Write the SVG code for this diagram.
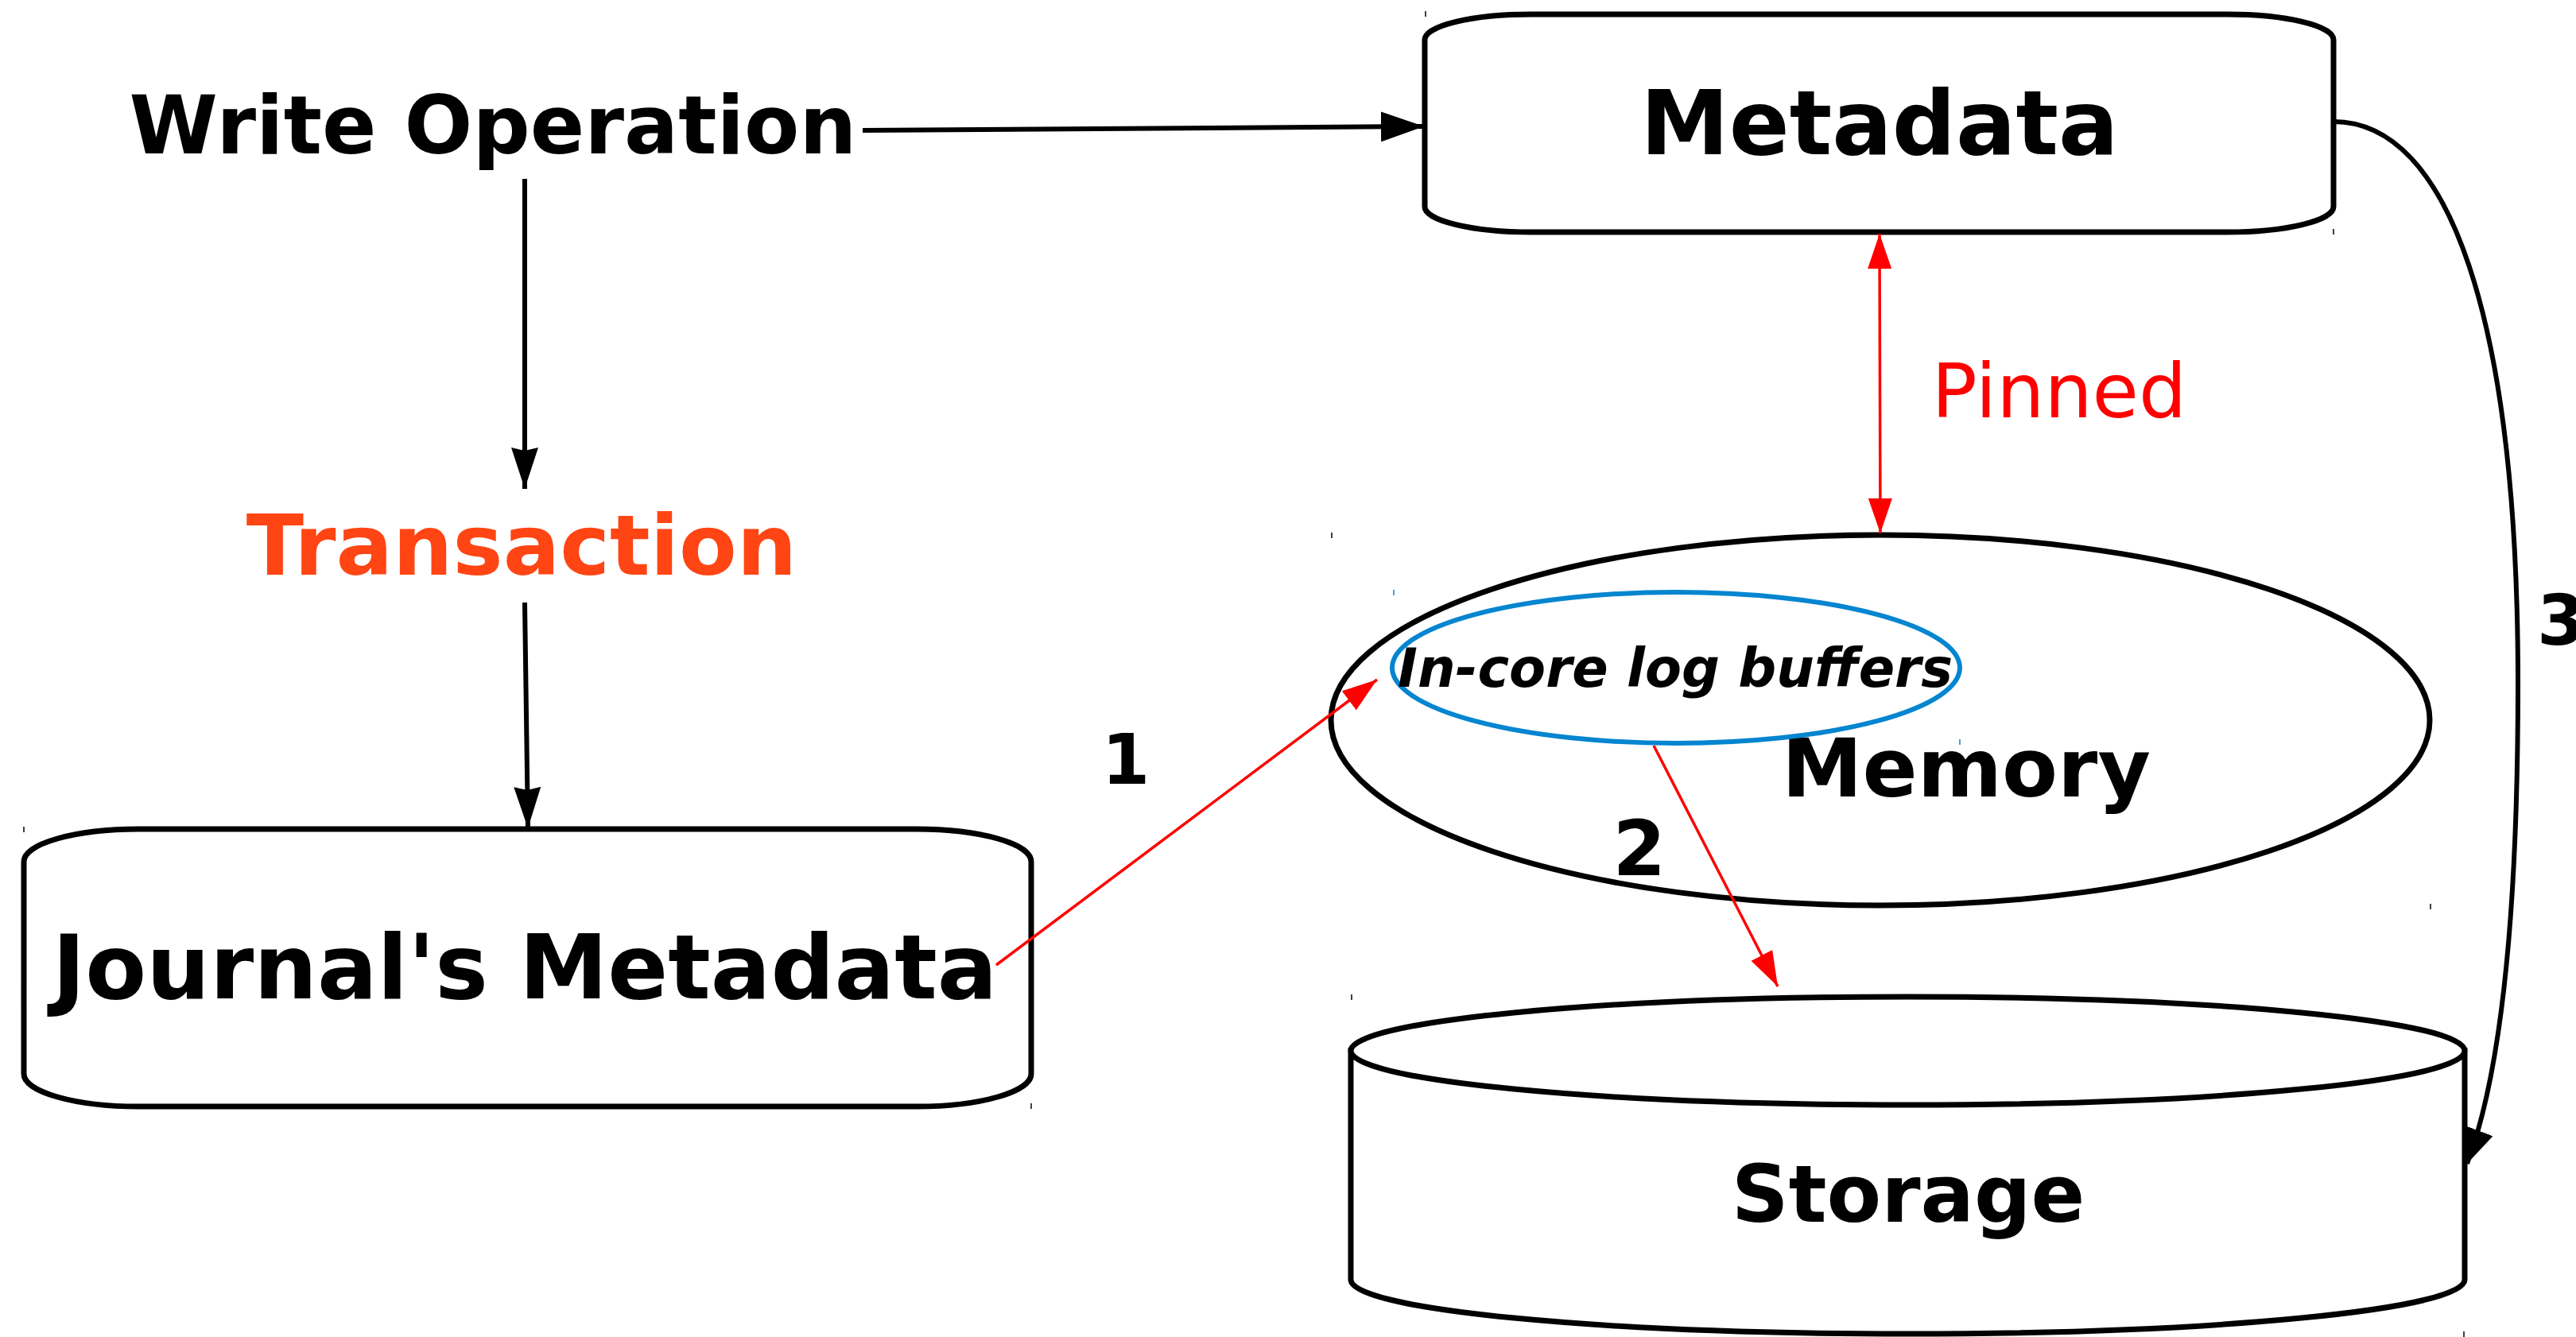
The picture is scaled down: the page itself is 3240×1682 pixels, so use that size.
<svg xmlns="http://www.w3.org/2000/svg" width="3240" height="1682" viewBox="0 0 3240 1682">
<style>
.shape{fill:#ffffff;stroke:#000000;stroke-width:7}
.lbl{font-family:"DejaVu Sans","Liberation Sans",sans-serif;font-weight:bold;fill:#000000}
.blk{fill:none;stroke:#000000;stroke-width:6}
.red{fill:none;stroke:#ff0000;stroke-width:3.5}
.tick{stroke:#000000;stroke-width:1.5}
.tickb{stroke:#0485d0;stroke-width:1.5}
</style>
<defs>
<marker id="arrB" markerUnits="userSpaceOnUse" markerWidth="56" markerHeight="38" refX="54" refY="19" orient="auto">
<path d="M0,0 L54,19 L0,38 Z" fill="#000000"/>
</marker>
<marker id="arrV" markerUnits="userSpaceOnUse" markerWidth="54" markerHeight="34" refX="52" refY="17" orient="auto">
<path d="M0,0 L52,17 L0,34 L4,17 Z" fill="#000000"/>
</marker>
<marker id="arrC" markerUnits="userSpaceOnUse" markerWidth="46" markerHeight="36" refX="44" refY="18" orient="auto">
<path d="M0,0 L44,18 L0,36 Z" fill="#000000"/>
</marker>
<marker id="arrR" markerUnits="userSpaceOnUse" markerWidth="46" markerHeight="30" refX="44" refY="15" orient="auto">
<path d="M0,0 L44,15 L0,30 Z" fill="#ff0000"/>
</marker>
<marker id="arrRs" markerUnits="userSpaceOnUse" markerWidth="46" markerHeight="30" refX="44" refY="15" orient="auto-start-reverse">
<path d="M0,0 L44,15 L0,30 Z" fill="#ff0000"/>
</marker>
</defs>
<rect width="3240" height="1682" fill="#ffffff"/>

<g id="write-operation">
<text class="lbl" x="620" y="193" font-size="101" text-anchor="middle">Write Operation</text>
</g>

<g id="transaction">
<text class="lbl" x="656" y="723" font-size="106" text-anchor="middle" style="fill:#ff4513">Transaction</text>
</g>

<g id="metadata">
<rect class="shape" x="1792" y="18" width="1143" height="274" rx="134" ry="32"/>
<text class="lbl" x="2364" y="194" font-size="112" text-anchor="middle">Metadata</text>
</g>

<g id="journals-metadata">
<rect class="shape" x="30" y="1043" width="1267" height="349" rx="144" ry="41"/>
<text class="lbl" x="660" y="1256" font-size="112" text-anchor="middle">Journal's Metadata</text>
</g>

<g id="memory">
<ellipse class="shape" cx="2365" cy="906" rx="691" ry="233"/>
<text class="lbl" x="2473" y="1002" font-size="102" text-anchor="middle">Memory</text>
</g>

<g id="in-core-log-buffers">
<ellipse cx="2108" cy="840" rx="357" ry="95" fill="none" stroke="#0485d0" stroke-width="6"/>
<text class="lbl" x="2107" y="864" font-size="67" font-style="italic" text-anchor="middle">In-core log buffers</text>
</g>

<g id="storage">
<path class="shape" d="M1699,1322 L1699,1610 A700.5,68 0 0,0 3100,1610 L3100,1322 Z"/>
<ellipse class="shape" cx="2399.5" cy="1322" rx="700.5" ry="68"/>
<text class="lbl" x="2400" y="1537" font-size="100" text-anchor="middle">Storage</text>
</g>

<g id="pinned-label">
<text x="2590" y="525" font-size="95" text-anchor="middle" font-family="'DejaVu Sans','Liberation Sans',sans-serif" fill="#ff0000">Pinned</text>
</g>

<g id="step-labels">
<text class="lbl" x="1416" y="986" font-size="87" text-anchor="middle">1</text>
<text class="lbl" x="2062" y="1101" font-size="96" text-anchor="middle">2</text>
<text class="lbl" x="3191" y="811" font-size="87">3</text>
</g>

<g id="connectors">
<line class="blk" x1="1085" y1="164" x2="1791" y2="159" marker-end="url(#arrB)"/>
<line class="blk" x1="660" y1="225" x2="660" y2="615" marker-end="url(#arrV)"/>
<line class="blk" x1="660" y1="758" x2="664" y2="1042" marker-end="url(#arrV)"/>
<line class="red" x1="2364" y1="294" x2="2365" y2="671" marker-start="url(#arrRs)" marker-end="url(#arrR)"/>
<line class="red" x1="1253" y1="1214" x2="1732" y2="855" marker-end="url(#arrR)"/>
<line class="red" x1="2080" y1="938" x2="2236" y2="1241" marker-end="url(#arrR)"/>
<path class="blk" d="M2935,153 C3080,153 3167,400 3167,860 C3167,1120 3150,1340 3103,1464" marker-end="url(#arrC)"/>
</g>

<g id="marks">
<line class="tick" x1="1793" y1="14" x2="1793" y2="21"/>
<line class="tick" x1="2935" y1="288" x2="2935" y2="295"/>
<line class="tick" x1="30" y1="1040" x2="30" y2="1047"/>
<line class="tick" x1="1297" y1="1388" x2="1297" y2="1395"/>
<line class="tick" x1="1675" y1="670" x2="1675" y2="677"/>
<line class="tick" x1="3057" y1="1137" x2="3057" y2="1144"/>
<line class="tickb" x1="1753" y1="742" x2="1753" y2="749"/>
<line class="tickb" x1="2465" y1="930" x2="2465" y2="937"/>
<line class="tick" x1="1700" y1="1251" x2="1700" y2="1258"/>
<line class="tick" x1="3099" y1="1675" x2="3099" y2="1682"/>
</g>
</svg>
